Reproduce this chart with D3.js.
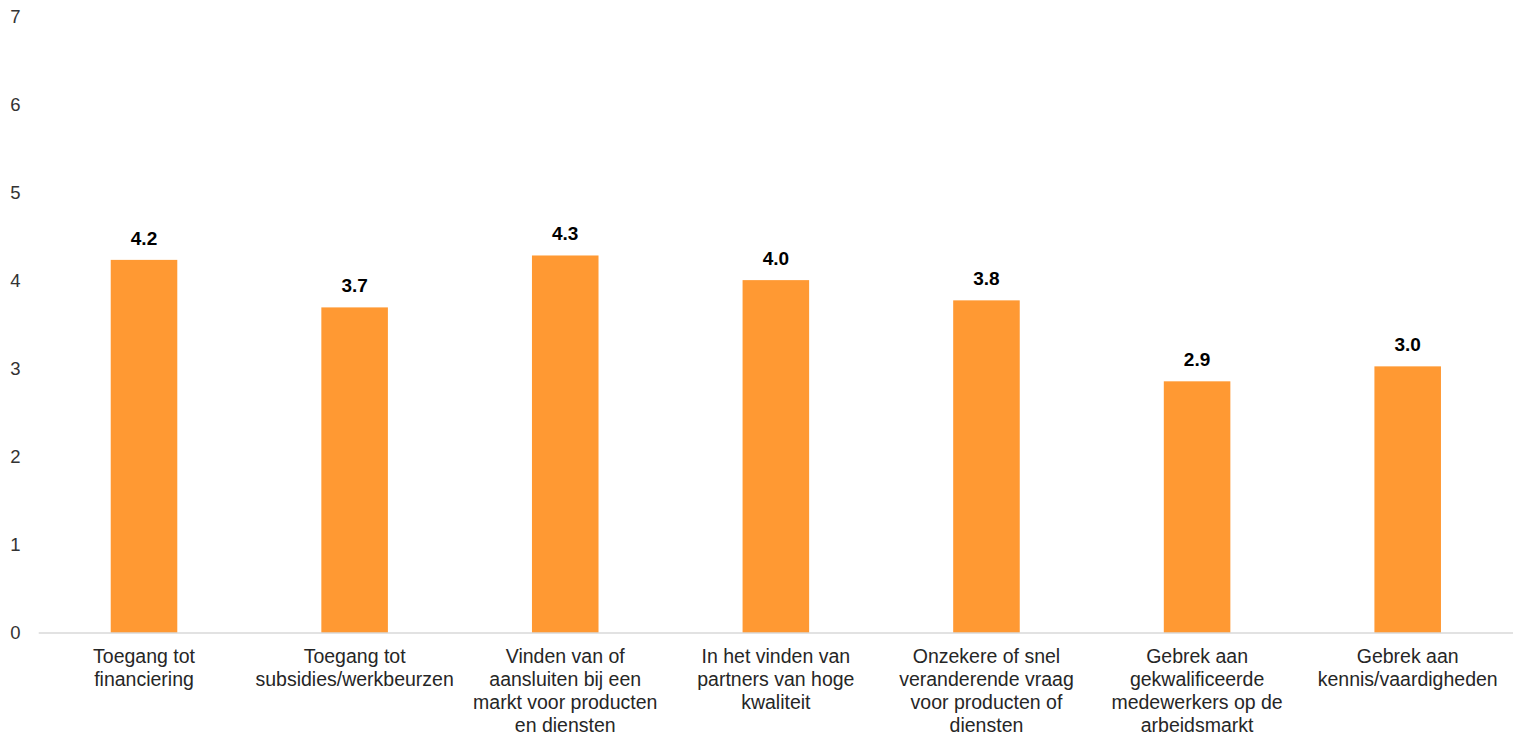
<!DOCTYPE html>
<html>
<head>
<meta charset="utf-8">
<script src="https://cdn.jsdelivr.net/npm/d3@7"></script>
<style>
  html, body { margin: 0; padding: 0; background: #fff; }
  svg { display: block; font-family: "Liberation Sans", Arial, sans-serif; }
</style>
</head>
<body>
<svg id="chart" width="1518" height="736"></svg>
<script>
// Obstacles, average score per category
const categories = [
  "Toegang tot financiering",
  "Toegang tot subsidies/werkbeurzen",
  "Vinden van of aansluiten bij een markt voor producten en diensten",
  "In het vinden van partners van hoge kwaliteit",
  "Onzekere of snel veranderende vraag voor producten of diensten",
  "Gebrek aan gekwalificeerde medewerkers op de arbeidsmarkt",
  "Gebrek aan kennis/vaardigheden"
];
// Line breaks used under the axis
const categoryLines = [
  ["Toegang tot", "financiering"],
  ["Toegang tot", "subsidies/werkbeurzen"],
  ["Vinden van of", "aansluiten bij een", "markt voor producten", "en diensten"],
  ["In het vinden van", "partners van hoge", "kwaliteit"],
  ["Onzekere of snel", "veranderende vraag", "voor producten of", "diensten"],
  ["Gebrek aan", "gekwalificeerde", "medewerkers op de", "arbeidsmarkt"],
  ["Gebrek aan", "kennis/vaardigheden"]
];
const values = [4.24, 3.70, 4.29, 4.01, 3.78, 2.86, 3.03];
const yTicks = [0, 1, 2, 3, 4, 5, 6, 7];

const svg = d3.select("#chart");

const x = d3.scaleBand()
  .domain(categories)
  .range([38.7, 1513])
  .paddingInner(0.684)
  .paddingOuter(0.342);

const y = d3.scaleLinear().domain([0, 7]).range([633, 17]);

const fmt = d3.format(".1f");

// y tick labels (no axis line, no gridlines)
svg.append("g")
  .selectAll("text")
  .data(yTicks)
  .join("text")
  .attr("x", 20.5)
  .attr("y", d => y(d))
  .attr("dy", "0.35em")
  .attr("text-anchor", "end")
  .attr("font-size", 18.5)
  .attr("fill", "#333")
  .text(d => d);

// bars
svg.append("g")
  .selectAll("rect")
  .data(values)
  .join("rect")
  .attr("x", (d, i) => x(categories[i]))
  .attr("width", x.bandwidth())
  .attr("y", d => y(d))
  .attr("height", d => y(0) - y(d))
  .attr("fill", "#ff9933");

// baseline
svg.append("line")
  .attr("x1", 38.7)
  .attr("x2", 1513)
  .attr("y1", y(0))
  .attr("y2", y(0))
  .attr("stroke", "#d9d9d9")
  .attr("stroke-width", 1.6);

// value labels
svg.append("g")
  .selectAll("text")
  .data(values)
  .join("text")
  .attr("x", (d, i) => x(categories[i]) + x.bandwidth() / 2)
  .attr("y", d => y(d) - 15)
  .attr("text-anchor", "middle")
  .attr("font-size", 19)
  .attr("font-weight", "bold")
  .attr("fill", "#000")
  .text(d => fmt(d));

// category labels
const catG = svg.append("g")
  .selectAll("text")
  .data(categories)
  .join("text")
  .attr("x", d => x(d) + x.bandwidth() / 2)
  .attr("y", 663)
  .attr("text-anchor", "middle")
  .attr("font-size", 19.5)
  .attr("fill", "#262626");

catG.selectAll("tspan")
  .data((d, i) => categoryLines[i])
  .join("tspan")
  .attr("x", function () { return d3.select(this.parentNode).attr("x"); })
  .attr("dy", (d, j) => j === 0 ? 0 : 23)
  .text(d => d);
</script>
</body>
</html>
